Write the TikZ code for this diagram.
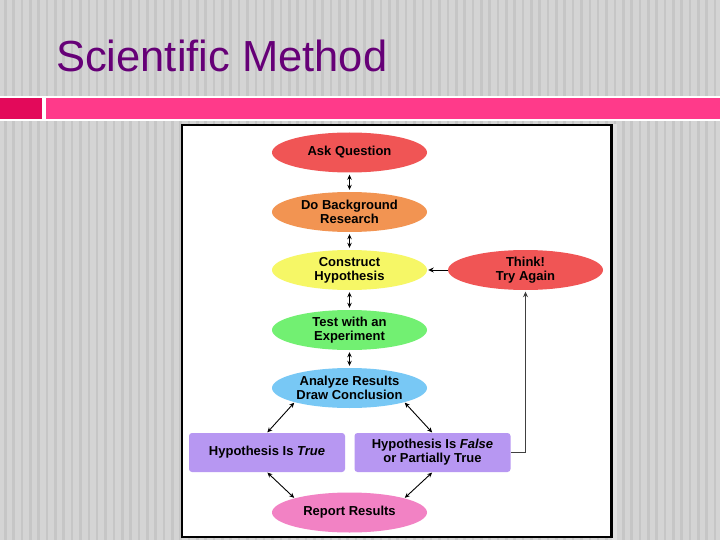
\documentclass[tikz,border=0pt]{standalone}
\usepackage{fontspec}
\setmainfont{Liberation Sans}
\usetikzlibrary{shapes.geometric,arrows.meta}
\definecolor{bggrey}{HTML}{D4D4D4}
\definecolor{stripegrey}{HTML}{C6C6C6}
\definecolor{titlepurple}{HTML}{660077}
\definecolor{barpink}{HTML}{FF3A8A}
\definecolor{sqpink}{HTML}{E3095A}
\definecolor{askred}{HTML}{F05555}
\definecolor{bgorange}{HTML}{F29452}
\definecolor{hypyellow}{HTML}{F6F766}
\definecolor{testgreen}{HTML}{72F072}
\definecolor{anablue}{HTML}{78C8F5}
\definecolor{hyplav}{HTML}{B797F2}
\definecolor{reppink}{HTML}{F282C4}
\definecolor{shadowgrey}{HTML}{E2E2E2}
\tikzset{
  oval/.style={ellipse, minimum width=155pt, minimum height=40pt, inner sep=0pt,
    font=\fontsize{13}{14}\selectfont\bfseries, align=center},
  hbox/.style={rounded corners=3pt, fill=hyplav, minimum width=156pt, minimum height=39pt,
    inner sep=0pt, font=\fontsize{13}{14}\selectfont\bfseries, align=center},
  link/.style={{Stealth[length=5pt,width=4.5pt]}-{Stealth[length=5pt,width=4.5pt]}, line width=0.9pt, shorten <=2pt, shorten >=2pt},
  onelink/.style={-{Stealth[length=5.5pt,width=5pt]}, line width=0.9pt},
}
\begin{document}
\begin{tikzpicture}[x=1pt,y=-1pt]
\useasboundingbox (0,0) rectangle (720,540);
% background
\fill[bggrey] (0,0) rectangle (720,540);
\foreach \i in {0,...,86} {
  \fill[stripegrey] ({4+\i*8.35},0) rectangle ++(2.6,540);
}
% title
\node[anchor=base west, inner sep=0pt, text=titlepurple, font=\fontsize{43.5}{50}\selectfont] (title) at (56,72) {Scientific Method};
% pink bar
\fill[white] (0,96.5) rectangle (720,121);
\fill[sqpink] (0,98) rectangle (42,119);
\fill[barpink] (46,98) rectangle (720,119);
% frame
\fill[shadowgrey] (612,124) rectangle (617,540);
\draw[line width=2.5pt, fill=white] (182,125) rectangle (611.5,537);
% nodes
\node[oval, fill=askred] (ask) at (349.5,152.5) {Ask Question};
\node[oval, fill=bgorange] (bg) at (349.5,212) {Do Background\\Research};
\node[oval, fill=hypyellow] (hyp) at (349.5,270) {Construct\\Hypothesis};
\node[oval, fill=askred] (think) at (525.5,270) {Think!\\Try Again};
\node[oval, fill=testgreen] (test) at (349.5,330) {Test with an\\Experiment};
\node[oval, fill=anablue] (ana) at (349.5,388) {Analyze Results\\Draw Conclusion};
\node[hbox] (htrue) at (267,452.5) {Hypothesis Is \textit{True}};
\node[hbox] (hfalse) at (432.5,452.5) {Hypothesis Is \textit{False}\\or Partially True};
\node[oval, fill=reppink] (rep) at (349.5,512.5) {Report Results};
% connectors
\draw[link] (ask.south) -- (bg.north);
\draw[link] (bg.south) -- (hyp.north);
\draw[link] (hyp.south) -- (test.north);
\draw[link] (test.south) -- (ana.north);
\draw[link, shorten <=0.5pt, shorten >=0.5pt] (ana.south west) -- (htrue.north);
\draw[link, shorten <=0.5pt, shorten >=0.5pt] (ana.south east) -- (hfalse.north);
\draw[link, shorten <=0.5pt, shorten >=0.5pt] (htrue.south) -- (rep.north west);
\draw[link, shorten <=0.5pt, shorten >=0.5pt] (hfalse.south) -- (rep.north east);
\draw[onelink, shorten >=1pt] (think.west) -- (hyp.east);
\draw[onelink, draw=black!75, line width=0.7pt, shorten >=1.5pt] (hfalse.east) -| (think.south);
\end{tikzpicture}
\end{document}
